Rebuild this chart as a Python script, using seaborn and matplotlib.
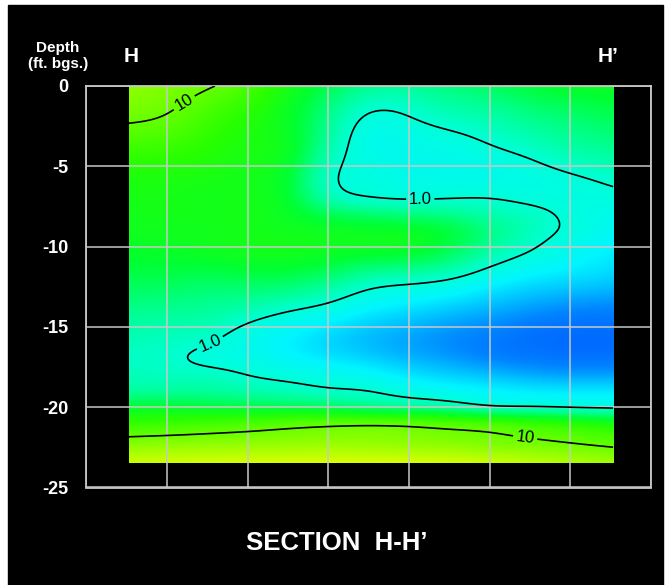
import numpy as np
import matplotlib
matplotlib.use("Agg")
import matplotlib.pyplot as plt
from matplotlib.patches import Rectangle
import seaborn as sns

# Stations along the section (ft) and sample depths (ft bgs, negative downward)
station_ft = [2.63, 5.0, 7.5, 10.0, 12.5, 15.0, 17.5, 20.0, 22.5, 25.0, 27.5, 30.0, 32.65]
depth_ft = [0, -2, -4, -6, -7, -8, -9, -10, -12, -14, -16, -17, -18, -19, -20, -21, -22, -23.5]

# log10 concentration, one row per depth, one column per station
log_conc = [
    [1.16, 1.10, 1.02, 0.88, 0.65, 0.42, 0.25, 0.22, 0.30, 0.38, 0.48, 0.55, 0.58],
    [1.03, 0.98, 0.85, 0.72, 0.55, 0.25, -0.03, -0.01, 0.08, 0.15, 0.25, 0.33, 0.40],
    [0.82, 0.80, 0.73, 0.66, 0.55, 0.15, -0.10, -0.12, -0.10, -0.03, 0.05, 0.15, 0.22],
    [0.67, 0.66, 0.64, 0.62, 0.48, 0.06, -0.05, -0.10, -0.10, -0.10, -0.08, -0.04, 0.02],
    [0.64, 0.64, 0.62, 0.62, 0.50, 0.15, 0.02, -0.01, 0.00, 0.00, -0.04, -0.06, -0.05],
    [0.62, 0.62, 0.62, 0.62, 0.55, 0.40, 0.32, 0.28, 0.24, 0.14, 0.06, -0.04, -0.12],
    [0.60, 0.60, 0.61, 0.62, 0.60, 0.57, 0.55, 0.53, 0.44, 0.26, 0.09, -0.04, -0.18],
    [0.56, 0.57, 0.60, 0.62, 0.62, 0.60, 0.58, 0.56, 0.43, 0.21, 0.03, -0.12, -0.25],
    [0.42, 0.42, 0.40, 0.42, 0.40, 0.30, 0.15, 0.09, 0.01, -0.15, -0.28, -0.35, -0.42],
    [0.25, 0.23, 0.20, 0.12, 0.01, -0.10, -0.25, -0.35, -0.45, -0.55, -0.65, -0.72, -0.75],
    [0.10, 0.07, 0.01, -0.12, -0.25, -0.38, -0.50, -0.60, -0.70, -0.78, -0.85, -0.88, -0.88],
    [0.06, 0.04, -0.04, -0.10, -0.20, -0.30, -0.40, -0.52, -0.62, -0.72, -0.78, -0.82, -0.82],
    [0.10, 0.08, 0.07, 0.00, -0.06, -0.12, -0.20, -0.32, -0.42, -0.50, -0.58, -0.62, -0.62],
    [0.20, 0.20, 0.20, 0.15, 0.10, 0.04, 0.00, -0.10, -0.18, -0.25, -0.30, -0.32, -0.32],
    [0.50, 0.50, 0.48, 0.45, 0.42, 0.38, 0.30, 0.25, 0.18, 0.06, 0.03, 0.00, -0.03],
    [0.78, 0.80, 0.83, 0.86, 0.90, 0.93, 0.94, 0.92, 0.87, 0.82, 0.75, 0.68, 0.60],
    [1.04, 1.06, 1.08, 1.10, 1.12, 1.14, 1.14, 1.12, 1.09, 1.05, 1.01, 0.96, 0.90],
    [1.40, 1.42, 1.44, 1.45, 1.46, 1.47, 1.47, 1.46, 1.44, 1.40, 1.35, 1.28, 1.22],
]

contour_levels = [0.0, 1.0]
contour_text = {0.0: "1.0", 1.0: "10"}
depth_ticks = [0, -5, -10, -15, -20, -25]
depth_tick_labels = ["0", "-5", "-10", "-15", "-20", "-25"]
station_ticks = [0, 5, 10, 15, 20, 25, 30, 35]


def spline_weights(knots, targets):
    """Natural cubic spline weights: values at targets = W @ values at knots."""
    k = np.asarray(knots, dtype=float)
    order = np.argsort(k)
    k = k[order]
    n = len(k)
    h = np.diff(k)
    A = np.zeros((n, n))
    B = np.zeros((n, n))
    A[0, 0] = A[-1, -1] = 1.0
    for i in range(1, n - 1):
        A[i, i - 1] = h[i - 1]
        A[i, i] = 2 * (h[i - 1] + h[i])
        A[i, i + 1] = h[i]
        B[i, i - 1] = 6 / h[i - 1]
        B[i, i] = -6 / h[i - 1] - 6 / h[i]
        B[i, i + 1] = 6 / h[i]
    Mw = np.linalg.solve(A, B)  # second derivatives as weights of y
    t = np.asarray(targets, dtype=float)
    idx = np.clip(np.searchsorted(k, t) - 1, 0, n - 2)
    W = np.zeros((len(t), n))
    for r, (ti, i) in enumerate(zip(t, idx)):
        hi = h[i]
        a = (k[i + 1] - ti)
        b = (ti - k[i])
        W[r, i] += a / hi
        W[r, i + 1] += b / hi
        W[r] += Mw[i] * (a ** 3 / (6 * hi) - a * hi / 6)
        W[r] += Mw[i + 1] * (b ** 3 / (6 * hi) - b * hi / 6)
    # map back to the caller's knot order
    out = np.zeros_like(W)
    out[:, order] = W
    return out


sns.set_theme(style="dark", rc={
    "axes.facecolor": "black",
    "figure.facecolor": "white",
    "axes.edgecolor": "#c8c8c8",
    "grid.color": "#c8c8c8",
})
plt.rcParams["font.family"] = ["Liberation Sans", "DejaVu Sans"]

# blue -> cyan -> green -> yellow ramp
ramp = sns.blend_palette(
    ["#005aff", "#0082ff", "#00beff", "#00f5ff", "#00ffd7", "#00ff8c",
     "#00ff32", "#28ff00", "#64ff00", "#a5ff00", "#e1ff00"],
    as_cmap=True,
)

fig = plt.figure(figsize=(6.67, 5.85), dpi=100)
fig.add_artist(Rectangle((8 / 667, 0), 655 / 667, 580 / 585,
                         transform=fig.transFigure, color="black", zorder=-10))

ax = fig.add_axes([86.3 / 667, 1 - 487.5 / 585, (651 - 86.3) / 667, (487.5 - 86) / 585])

# smooth surface through the sampled section
xs = np.linspace(station_ft[0], station_ft[-1], 420)
zs = np.linspace(depth_ft[-1], depth_ft[0], 360)
Wx = spline_weights(station_ft, xs)
Wz = spline_weights(depth_ft, zs)
field = Wz @ np.array(log_conc) @ Wx.T

ax.imshow(field, extent=[station_ft[0], station_ft[-1], depth_ft[-1], depth_ft[0]],
          origin="lower", cmap=ramp, vmin=-1.0, vmax=1.5, aspect="auto",
          interpolation="bilinear", zorder=0)
cs = ax.contour(xs, zs, field, levels=contour_levels, colors="black",
                linewidths=1.2, zorder=3)
ax.clabel(cs, fmt=contour_text, fontsize=12, inline=True, inline_spacing=5,
          manual=[(6.1, -1.1), (20.7, -6.9), (7.7, -16.1), (27.2, -21.9)])

ax.set_xlim(0, 35)
ax.set_ylim(-25, 0)
ax.set_xticks(station_ticks)
ax.set_xticklabels([])
ax.set_yticks(depth_ticks)
ax.set_yticklabels(depth_tick_labels, color="white", fontsize=13, fontweight="bold")
ax.tick_params(length=0, pad=13)
ax.set_axisbelow("line")
ax.grid(True, color="#c8c8c8", linewidth=1.1)
for sp in ax.spines.values():
    sp.set_color("#c8c8c8")
    sp.set_linewidth(1.3)

fig.text(58 / 667, 1 - 56 / 585, "Depth\n(ft. bgs.)", ha="center", va="center",
         color="white", fontsize=11, fontweight="bold", linespacing=1.1)
fig.text(131 / 667, 1 - 57 / 585, "H", ha="center", va="center",
         color="white", fontsize=15, fontweight="bold")
fig.text(608 / 667, 1 - 57 / 585, "H\u2019", ha="center", va="center",
         color="white", fontsize=15, fontweight="bold")
fig.text(337 / 667, 1 - 542.5 / 585, "SECTION  H-H\u2019", ha="center", va="center",
         color="white", fontsize=18.5, fontweight="bold")

fig.savefig("out.png", dpi=100)
